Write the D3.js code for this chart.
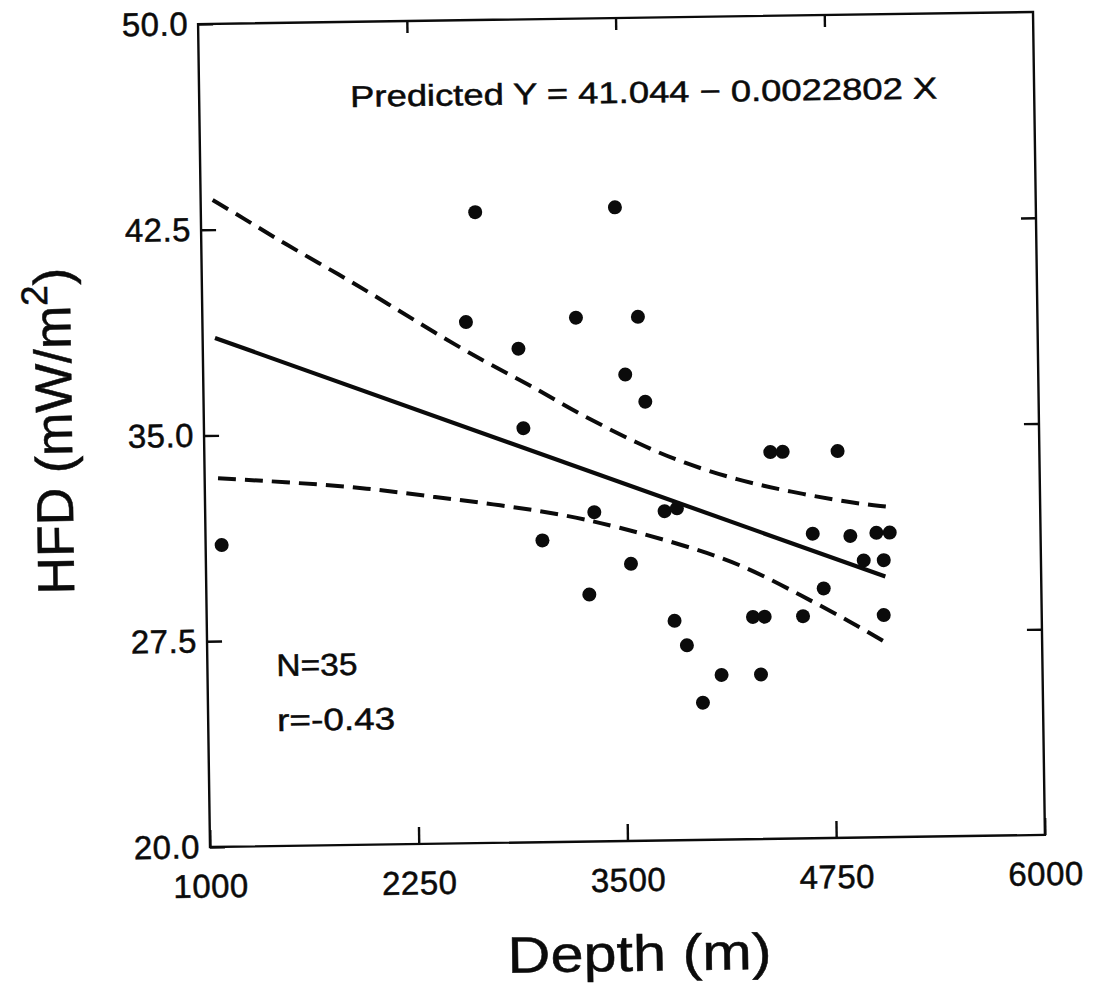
<!DOCTYPE html>
<html>
<head>
<meta charset="utf-8">
<script src="https://cdn.jsdelivr.net/npm/d3@7"></script>
<style>
  body { margin: 0; background: #fff; }
  svg { display: block; font-family: "Liberation Sans", Arial, sans-serif; }
  svg text { stroke: #0b0b0b; stroke-width: 0.5px; }
</style>
</head>
<body>
<div id="chart"></div>
<script>
// Depth (m) and heat flow density (mW/m2) of the 35 wells
var depth = [1096, 2643, 2578, 2890, 2913, 3017, 3237, 3293, 3330, 3480, 3527, 3545,
             3608, 3645, 3751, 3825, 3801, 3873, 3964, 4078, 4271, 4341, 4314, 4389,
             4463, 4571, 4636, 4697, 4792, 4861, 4939, 5017, 5097, 5059, 5054];
var hfd = [31.0, 43.0, 39.0, 38.0, 35.1, 31.0, 39.1, 29.0, 32.0, 43.1, 37.0, 30.1,
           39.1, 36.0, 32.0, 32.1, 28.0, 27.1, 25.0, 26.0, 28.1, 28.1, 26.0, 34.1,
           34.1, 28.1, 31.1, 29.1, 34.1, 31.0, 30.1, 31.1, 31.1, 30.1, 28.1];

// regression line
var fitDepth = [1074, 5067];
var fitHfd = [38.55, 29.5];

// confidence band (dashed)
var upperDepth = [1072, 1252, 1490, 1828, 2106, 2381, 2700, 2975, 3235, 3611, 3867, 4187, 4506, 4864, 5079];
var upperHfd = [43.58, 42.91, 41.98, 40.78, 39.73, 38.66, 37.49, 36.61, 35.63, 34.43, 33.75, 33.10, 32.64, 32.21, 32.05];
var lowerDepth = [1080, 1571, 1970, 2366, 2767, 3166, 3464, 3860, 4218, 4574, 4854, 5079];
var lowerHfd = [33.44, 33.22, 33.00, 32.65, 32.31, 31.91, 31.46, 30.76, 30.00, 28.81, 27.88, 27.04];

var xTicks = [1000, 2250, 3500, 4750, 6000];
var yTicks = [20, 27.5, 35, 42.5, 50];
var innerXTicks = [2250, 3500, 4750];
var innerYTicks = [27.5, 35, 42.5];

var equationText = "Predicted Y = 41.044 \u2212 0.0022802 X";
var nText = "N=35";
var rText = "r=-0.43";

var W = 1094, H = 983;
var margin = {top: 18, left: 204},
    w = 835,
    h = 823;
var ink = "#0b0b0b";

var svg = d3.select("#chart")
  .append("svg")
  .attr("width", W)
  .attr("height", H);

// the scanned figure is slightly tilted
var page = svg.append("g")
  .attr("transform", "rotate(-0.83," + (margin.left + w / 2) + "," + (margin.top + h / 2) + ")");

var plot = page.append("g")
  .attr("transform", "translate(" + margin.left + "," + margin.top + ")");

var x = d3.scaleLinear().domain([1000, 6000]).range([0, w]);
var y = d3.scaleLinear().domain([20, 50]).range([h, 0]);

// frame
plot.append("rect")
  .attr("width", w)
  .attr("height", h)
  .attr("fill", "none")
  .attr("stroke", ink)
  .attr("stroke-width", 2.4);

function styleAxis(g) {
  g.select(".domain").remove();
  g.selectAll(".tick line").attr("stroke", ink).attr("stroke-width", 2.4);
  g.selectAll(".tick text").attr("fill", ink)
    .style("font-size", "33px")
    .style("letter-spacing", "0.5px");
}

// Left axis
plot.append("g")
  .call(d3.axisLeft(y).tickValues(yTicks).tickFormat(d3.format(".1f"))
    .tickSizeInner(-15).tickSizeOuter(0).tickPadding(10))
  .call(styleAxis);

// Right axis ticks
plot.append("g")
  .attr("transform", "translate(" + w + ",0)")
  .call(d3.axisRight(y).tickValues(innerYTicks).tickFormat("")
    .tickSizeInner(-15).tickSizeOuter(0))
  .call(styleAxis);

// Bottom axis
plot.append("g")
  .attr("transform", "translate(0," + h + ")")
  .call(d3.axisBottom(x).tickValues(xTicks).tickFormat(d3.format("d"))
    .tickSizeInner(-17).tickSizeOuter(0).tickPadding(27))
  .call(styleAxis);

// Top axis ticks
plot.append("g")
  .call(d3.axisTop(x).tickValues(innerXTicks).tickFormat("")
    .tickSizeInner(-12).tickSizeOuter(0))
  .call(styleAxis);

// Lines
var line = d3.line()
  .x(d => x(d[0]))
  .y(d => y(d[1]))
  .curve(d3.curveBasis);

plot.append("path")
  .datum(upperDepth.map((d, i) => [d, upperHfd[i]]))
  .attr("d", line)
  .attr("fill", "none")
  .attr("stroke", ink)
  .attr("stroke-width", 4)
  .attr("stroke-dasharray", "18,9");

plot.append("path")
  .datum(lowerDepth.map((d, i) => [d, lowerHfd[i]]))
  .attr("d", line)
  .attr("fill", "none")
  .attr("stroke", ink)
  .attr("stroke-width", 4)
  .attr("stroke-dasharray", "18,9");

plot.append("path")
  .datum(fitDepth.map((d, i) => [d, fitHfd[i]]))
  .attr("d", line)
  .attr("fill", "none")
  .attr("stroke", ink)
  .attr("stroke-width", 4.2);

// Data points
plot.selectAll(".dot")
  .data(depth.map((d, i) => [d, hfd[i]]))
  .enter()
  .append("circle")
  .attr("class", "dot")
  .attr("cx", d => x(d[0]))
  .attr("cy", d => y(d[1]))
  .attr("r", 7)
  .attr("fill", ink);

// Equation and stats
page.append("text")
  .attr("x", 355)
  .attr("y", 103)
  .attr("textLength", 587)
  .attr("lengthAdjust", "spacingAndGlyphs")
  .style("font-size", "30px")
  .attr("fill", ink)
  .text(equationText);

page.append("text")
  .attr("x", 273)
  .attr("y", 671)
  .attr("textLength", 81)
  .attr("lengthAdjust", "spacingAndGlyphs")
  .style("font-size", "31px")
  .attr("fill", ink)
  .text(nText);

page.append("text")
  .attr("x", 273)
  .attr("y", 726)
  .attr("textLength", 118)
  .attr("lengthAdjust", "spacingAndGlyphs")
  .style("font-size", "31px")
  .attr("fill", ink)
  .text(rText);

// X axis title
page.append("text")
  .attr("x", 632)
  .attr("y", 971)
  .attr("text-anchor", "middle")
  .attr("textLength", 264)
  .attr("lengthAdjust", "spacingAndGlyphs")
  .style("font-size", "51px")
  .attr("fill", ink)
  .text("Depth (m)");

// Y axis title
var yt = page.append("text")
  .attr("transform", "translate(72,423) rotate(-90)")
  .attr("text-anchor", "middle")
  .style("font-size", "52px")
  .attr("fill", ink);
yt.append("tspan").text("HFD (mW/m");
yt.append("tspan").attr("dy", "-0.62em").style("font-size", "37px").text("2");
yt.append("tspan").attr("dy", "0.45em").text(")");
</script>
</body>
</html>
